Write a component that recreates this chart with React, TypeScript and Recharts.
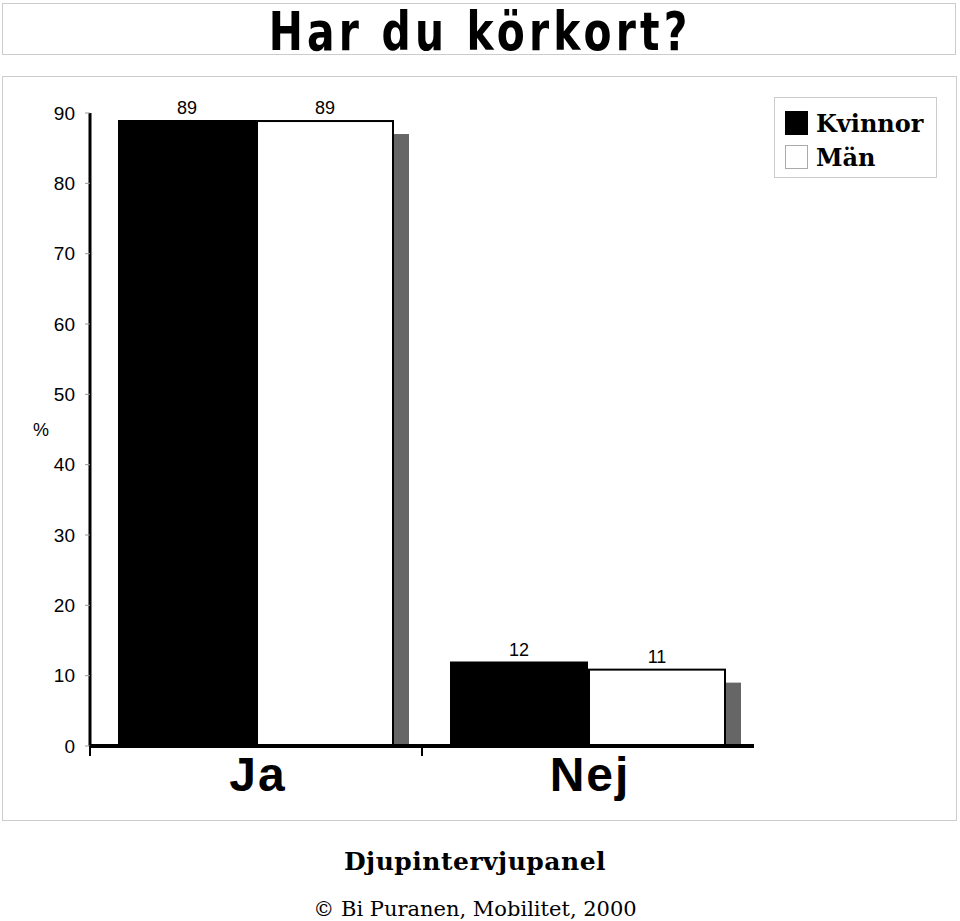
import React from 'react';
import { BarChart, Bar, XAxis, YAxis, LabelList, Legend } from 'recharts';

const categories = ['Ja', 'Nej'];
const kvinnor = [89, 12];
const man = [89, 11];
const yTicks = [0, 10, 20, 30, 40, 50, 60, 70, 80, 90];
const seriesNames = ['Kvinnor', 'Män'];
const title = 'Har du körkort?';
const yLabel = '%';
const footer1 = 'Djupintervjupanel';
const footer2 = '© Bi Puranen, Mobilitet, 2000';

const data = categories.map((c, i) => ({ category: c, Kvinnor: kvinnor[i], Män: man[i] }));

const SANS = '"Liberation Sans", Arial, sans-serif';
const SERIF = '"DejaVu Serif", serif';

const PLOT_LEFT = 90;
const PLOT_RIGHT = 754;
const HALF_BAND = (PLOT_RIGHT - PLOT_LEFT) / categories.length / 2;

const MenBar = (props: any) => {
  const { x, y, width, height } = props;
  if (width == null || height == null) return null;
  return (
    <g>
      <rect x={x + width} y={y + 14} width={15} height={Math.max(0, height - 14)} fill="#666666" />
      <rect x={x + 1} y={y + 1} width={width - 2} height={Math.max(0, height - 1)} fill="#ffffff" stroke="#000000" strokeWidth={2} />
    </g>
  );
};

const XTick = (props: any) => {
  const { x, y, payload } = props;
  const bx = x - HALF_BAND;
  return (
    <g>
      <line x1={bx} y1={y} x2={bx} y2={y + 10} stroke="#000" strokeWidth={2} />
      <text x={x + 2} y={y + 45} textAnchor="middle" fontFamily={SANS} fontWeight="bold" fontSize={48} letterSpacing={2} fill="#000">
        {payload.value}
      </text>
    </g>
  );
};

const LegendContent = () => (
  <div
    style={{
      width: 163,
      height: 81,
      border: '1px solid #cccccc',
      boxSizing: 'border-box',
      background: '#fff',
      padding: '8px 0 0 10px',
      fontFamily: SERIF,
      fontWeight: 'bold',
      fontSize: 24,
      color: '#000',
    }}
  >
    {seriesNames.map((n, i) => (
      <div key={n} style={{ display: 'flex', alignItems: 'center', height: 34 }}>
        <span
          style={{
            display: 'inline-block',
            width: 23,
            height: 24,
            boxSizing: 'border-box',
            background: i === 0 ? '#000' : '#fff',
            border: i === 0 ? 'none' : '1px solid #aaa',
            marginRight: 8,
          }}
        />
        <span>{n}</span>
      </div>
    ))}
  </div>
);

export default function App() {
  return (
    <div style={{ position: 'absolute', left: 0, top: 0, width: 960, height: 921, background: '#fff' }}>
      <div
        style={{
          position: 'absolute',
          left: 2,
          top: 3,
          width: 954,
          height: 52,
          border: '1px solid #cccccc',
          boxSizing: 'border-box',
        }}
      />
      <div
        style={{
          position: 'absolute',
          left: 0,
          top: 0,
          width: 960,
          textAlign: 'center',
          fontFamily: '"DejaVu Sans Condensed", "DejaVu Sans", sans-serif',
          fontWeight: 'bold',
          fontSize: 54,
          lineHeight: '64px',
          letterSpacing: 5,
          transform: 'scaleX(0.84)',
          transformOrigin: '481px 32px',
          color: '#000',
          whiteSpace: 'nowrap',
        }}
      >
        {title}
      </div>
      <div
        style={{
          position: 'absolute',
          left: 2,
          top: 76,
          width: 955,
          height: 745,
          border: '1px solid #cccccc',
          boxSizing: 'border-box',
        }}
      />
      <div style={{ position: 'absolute', left: 0, top: 0 }}>
        <BarChart
          width={960}
          height={921}
          data={data}
          margin={{ top: 113, right: 960 - PLOT_RIGHT, bottom: 115, left: 30 }}
          barGap={0}
          barCategoryGap={28}
        >
          <XAxis
            dataKey="category"
            height={60}
            axisLine={{ stroke: '#000', strokeWidth: 4 }}
            tickLine={false}
            tickSize={0}
            tickMargin={0}
            tick={<XTick />}
            interval={0}
          />
          <YAxis
            width={60}
            domain={[0, 90]}
            ticks={yTicks}
            allowDataOverflow
            axisLine={{ stroke: '#000', strokeWidth: 3 }}
            tickLine={{ stroke: '#999', strokeWidth: 1 }}
            tickSize={5}
            tickMargin={10}
            tick={{ fontFamily: SANS, fontSize: 19, fill: '#000' }}
            label={{ value: yLabel, position: 'insideLeft', offset: 3, fontFamily: SANS, fontSize: 18, fill: '#000' }}
          />
          <Legend
            layout="vertical"
            align="center"
            verticalAlign="middle"
            content={<LegendContent />}
            wrapperStyle={{ position: 'absolute', left: 774, top: 97, width: 163, height: 81 }}
          />
          <Bar dataKey="Kvinnor" fill="#000" isAnimationActive={false}>
            <LabelList dataKey="Kvinnor" position="top" offset={6} fontFamily={SANS} fontSize={18} fill="#000" />
          </Bar>
          <Bar dataKey="Män" fill="#fff" shape={<MenBar />} isAnimationActive={false}>
            <LabelList dataKey="Män" position="top" offset={6} fontFamily={SANS} fontSize={18} fill="#000" />
          </Bar>
        </BarChart>
      </div>
      <div
        style={{
          position: 'absolute',
          left: 0,
          top: 845,
          width: 950,
          textAlign: 'center',
          fontFamily: SERIF,
          fontWeight: 'bold',
          fontSize: 25,
          letterSpacing: 0.5,
          lineHeight: '34px',
          color: '#000',
        }}
      >
        {footer1}
      </div>
      <div
        style={{
          position: 'absolute',
          left: 0,
          top: 894,
          width: 950,
          textAlign: 'center',
          fontFamily: SERIF,
          fontSize: 21,
          lineHeight: '30px',
          color: '#000',
        }}
      >
        {footer2}
      </div>
    </div>
  );
}
